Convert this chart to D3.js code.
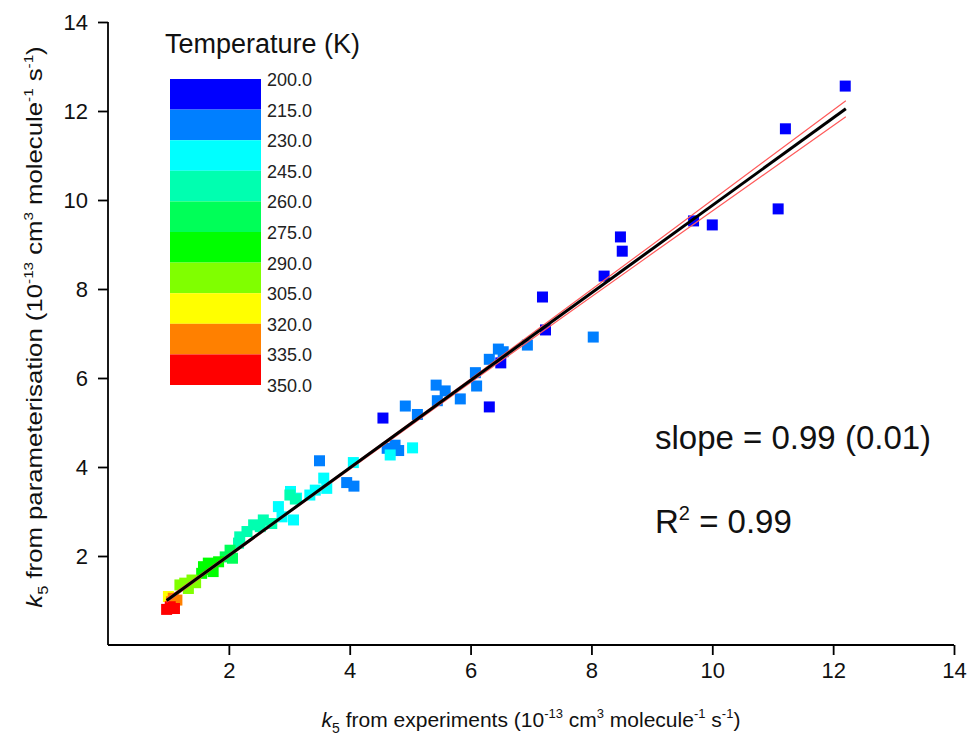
<!DOCTYPE html>
<html><head><meta charset="utf-8">
<script src="https://cdn.jsdelivr.net/npm/d3@7"></script>
<style>body{margin:0;background:#fff}svg{display:block}text{font-family:"Liberation Sans",Arial,sans-serif}</style>
</head><body>
<script>
// ---- data ----
const expX = [12.2,11.21,11.09,10.0,9.69,8.48,8.51,8.21,7.19,7.24,6.31,4.55,6.50,
  8.03,6.10,6.08,6.31,6.46,6.54,6.94,4.92,5.12,5.43,5.58,5.45,5.83,3.50,3.95,4.07,4.62,4.75,4.81,
  5.04,4.67,4.06,3.57,3.62,3.43,3.34,2.82,3.07,2.88,3.12,3.02,
  3.01,3.10,2.57,2.41,2.30,2.52,2.71,2.18,2.16,
  1.94,2.02,2.06,1.83,1.74,1.66,1.58,1.55,1.62,
  1.19,1.27,1.33,1.39,1.45,
  1.00,1.08,1.05,1.14,0.97,1.10,1.03];
const parY = [12.56,11.6,9.8,9.44,9.53,9.17,8.85,8.29,7.82,7.08,5.35,5.1,6.34,
  6.92,5.82,6.12,6.42,6.65,6.59,6.74,5.37,5.18,5.84,5.71,5.49,5.53,4.14,3.65,3.57,4.42,4.49,4.37,
  4.43,4.27,4.10,3.75,3.52,3.48,3.37,3.11,2.81,2.88,3.30,3.45,
  3.37,3.28,2.81,2.70,2.55,2.66,2.73,2.43,2.29,
  1.98,2.13,1.95,1.87,1.65,1.84,1.76,1.61,1.70,
  1.35,1.39,1.27,1.46,1.40,
  1.09,1.05,0.97,1.01,0.80,0.82,0.86];
const tempK = [205,205,205,205,205,205,205,205,205,205,205,205,205,
  220,220,220,220,220,220,220,220,220,220,220,220,220,220,220,220,220,220,220,
  235,235,235,235,235,235,235,235,235,235,235,235,
  250,250,250,250,250,250,250,250,250,
  265,265,265,280,280,280,280,280,280,
  295,295,295,295,295,
  310,325,325,325,340,340,340];
const legendTicks = [200,215,230,245,260,275,290,305,320,335,350];
const legendColors = ["#0000ff","#007fff","#00ffff","#00ffb0","#00ff58","#00ff00","#80ff00","#ffff00","#ff8000","#ff0000"];
const xTicks = [2,4,6,8,10,12,14];
const yTicks = [2,4,6,8,10,12,14];
const fitX = [0.97,12.21];
const fitY = [1.00,12.05];
const bandX = [0.97,3.0,6.0,9.0,12.21];
const bandUpper = [1.04,3.01,5.98,8.99,12.23];
const bandLower = [0.96,2.97,5.90,8.79,11.87];

// ---- chart ----
const W=970,H=742;
const svg=d3.select("body").append("svg").attr("width",W).attr("height",H);
const x=d3.scaleLinear().domain([0,14]).range([108,954]);
const y=d3.scaleLinear().domain([0,14]).range([645,22]);
const color=d3.scaleThreshold().domain(legendTicks.slice(1,-1)).range(legendColors);

// points
svg.append("g").selectAll("rect").data(expX.map((v,i)=>[v,parY[i],tempK[i]])).join("rect")
  .attr("x",d=>x(d[0])-5.5).attr("y",d=>y(d[1])-5.5).attr("width",11).attr("height",11)
  .attr("fill",d=>color(d[2]));

// band and fit lines
const line=d3.line().x(d=>x(d[0])).y(d=>y(d[1]));
svg.append("path").attr("d",line(bandX.map((v,i)=>[v,bandUpper[i]]))).attr("fill","none").attr("stroke","#ff5a5a").attr("stroke-width",1.2);
svg.append("path").attr("d",line(bandX.map((v,i)=>[v,bandLower[i]]))).attr("fill","none").attr("stroke","#ff5a5a").attr("stroke-width",1.2);
svg.append("path").attr("d",line(fitX.map((v,i)=>[v,fitY[i]]))).attr("fill","none").attr("stroke","#000").attr("stroke-width",3);

// axes
const minor=d3.range(1,15);
const gx=svg.append("g").attr("transform","translate(0,645)");
gx.call(d3.axisBottom(x).tickValues(minor).tickSize(6).tickFormat(""));
gx.call(d3.axisBottom(x).tickValues(xTicks).tickSize(10).tickSizeOuter(0).tickPadding(7));
gx.selectAll("path.domain").attr("stroke-width",1.8).attr("d","M108,0H954");
gx.selectAll("line").attr("stroke-width",1.8);
gx.selectAll("text").attr("font-size",22).attr("fill","#111");
const gy=svg.append("g").attr("transform","translate(108,0)");
gy.call(d3.axisLeft(y).tickValues(minor).tickSize(6).tickFormat(""));
gy.call(d3.axisLeft(y).tickValues(yTicks).tickSize(10).tickSizeOuter(0).tickPadding(10));
gy.selectAll("path.domain").attr("stroke-width",1.8).attr("d","M0,22V645");
gy.selectAll("line").attr("stroke-width",1.8);
gy.selectAll("text").attr("font-size",22).attr("fill","#111");

// axis titles
function title(t){
  t.append("tspan").attr("font-style","italic").text("k");
  t.append("tspan").attr("font-size",14).attr("dy",6).text("5");
  t.append("tspan").attr("dy",-6).text(t.attr("data-mid"));
  t.append("tspan").attr("font-size",13).attr("dy",-9).text("-13");
  t.append("tspan").attr("dy",9).text(" cm");
  t.append("tspan").attr("font-size",13).attr("dy",-9).text("3");
  t.append("tspan").attr("dy",9).text(" molecule");
  t.append("tspan").attr("font-size",13).attr("dy",-9).text("-1");
  t.append("tspan").attr("dy",9).text(" s");
  t.append("tspan").attr("font-size",13).attr("dy",-9).text("-1");
  t.append("tspan").attr("dy",9).text(")");
}
svg.append("text").attr("x",531).attr("y",727).attr("text-anchor","middle").attr("font-size",21).attr("fill","#111")
  .attr("data-mid"," from experiments (10").call(title);
svg.append("text").attr("transform","translate(42,327) rotate(-90) scale(1.17,1)").attr("text-anchor","middle").attr("font-size",22).attr("fill","#111")
  .attr("data-mid"," from parameterisation (10").call(title);

// legend
svg.append("text").attr("x",165).attr("y",53).attr("font-size",27).attr("fill","#111").text("Temperature (K)");
const ly=d3.scaleLinear().domain([200,350]).range([79,385]);
svg.append("g").selectAll("rect").data(legendColors).join("rect")
  .attr("x",170).attr("width",91).attr("y",(d,i)=>ly(legendTicks[i])).attr("height",(d,i)=>ly(legendTicks[i+1])-ly(legendTicks[i]))
  .attr("fill",d=>d);
svg.append("g").selectAll("text").data(legendTicks).join("text")
  .attr("x",267).attr("y",d=>ly(d)+7).attr("font-size",18).attr("fill","#222").text(d=>d.toFixed(1));

// stats
svg.append("text").attr("x",655).attr("y",449).attr("font-size",33).attr("fill","#111").text("slope = 0.99 (0.01)");
const r=svg.append("text").attr("x",655).attr("y",533).attr("font-size",33).attr("fill","#111");
r.append("tspan").text("R");
r.append("tspan").attr("font-size",20).attr("dy",-13).text("2");
r.append("tspan").attr("dy",13).text(" = 0.99");
</script>
</body></html>
